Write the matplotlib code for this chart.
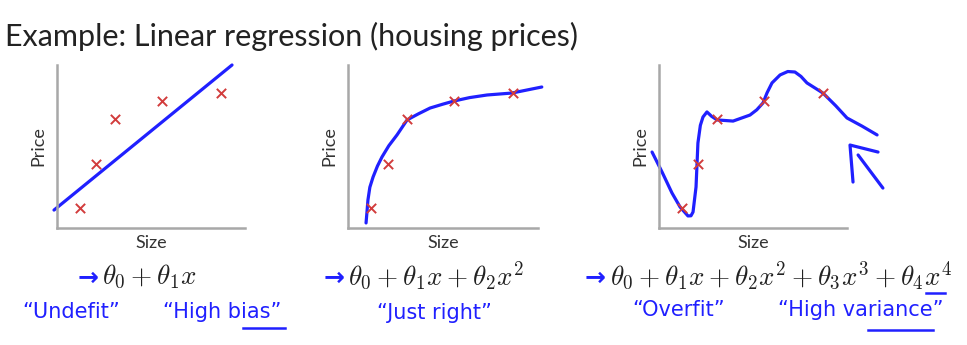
import matplotlib.pyplot as plt

plt.rcParams['mathtext.fontset'] = 'cm'

W, H = 967, 345

# training examples (same five houses in every panel)
size = [1.2, 2.1, 3.1, 5.6, 8.7]
price = [1.2, 3.9, 6.7, 7.8, 8.3]

# hand-drawn fits
fit1_x = [-0.16, 9.31]
fit1_y = [1.10, 10.0]

fit2_x = [0.95, 1.0, 1.05, 1.15, 1.32, 1.55, 1.79, 2.15, 2.58, 3.11, 3.7, 4.32, 5.0, 5.58, 6.4, 7.32, 8.63, 10.2]
fit2_y = [0.31, 1.0, 1.72, 2.5, 3.13, 3.8, 4.36, 5.05, 5.71, 6.63, 7.0, 7.36, 7.6, 7.79, 8.0, 8.16, 8.28, 8.65]

fit3_x = [-0.37, 0.16, 0.69, 1.12, 1.54, 1.7, 1.81, 1.97, 2.07, 2.2, 2.34, 2.55, 2.8, 3.09, 3.94,
          4.84, 5.2, 5.53, 5.75, 6.01, 6.44, 6.85, 7.23, 7.55, 7.87, 8.72, 9.4, 10.0, 10.8, 11.6]
fit3_y = [4.66, 3.44, 2.15, 1.29, 0.74, 0.75, 0.98, 2.52, 5.21, 6.3, 6.81, 7.12, 6.85, 6.63, 6.56,
          6.93, 7.25, 7.67, 8.3, 8.90, 9.39, 9.6, 9.57, 9.3, 8.90, 8.28, 7.5, 6.75, 6.25, 5.71]

# the little hand-drawn arrow pointing at the wiggle
arrow_a_x = [11.65, 10.16, 10.32]
arrow_a_y = [4.66, 5.09, 2.82]
arrow_b_x = [10.59, 11.91]
arrow_b_y = [4.48, 2.45]

formulas = [r'$\theta_0 + \theta_1 x$',
            r'$\theta_0 + \theta_1 x + \theta_2 x^2$',
            r'$\theta_0 + \theta_1 x + \theta_2 x^2 + \theta_3 x^3 + \theta_4 x^4$']

blue = '#2020ff'
red = '#d23c3c'
grey = '#a8a8a8'

fig = plt.figure(figsize=(W / 100, H / 100), dpi=100)


def panel(left, right, top, bottom):
    ax = fig.add_axes([left / W, 1 - bottom / H, (right - left) / W, (bottom - top) / H])
    ax.set_xlim(0, 10)
    ax.set_ylim(0, 10)
    for s in ['top', 'right']:
        ax.spines[s].set_visible(False)
    for s in ['left', 'bottom']:
        ax.spines[s].set_color(grey)
        ax.spines[s].set_linewidth(1.8)
    ax.set_xticks([])
    ax.set_yticks([])
    ax.set_xlabel('Size', fontsize=13, family='Lato', color='#333333', labelpad=5)
    ax.set_ylabel('Price', fontsize=13, family='Lato', color='#333333', labelpad=8)
    ax.patch.set_alpha(0)
    return ax


ax1 = panel(57, 245, 65, 228)
ax2 = panel(348, 538, 65, 228)
ax3 = panel(659, 847, 65, 228)

line_kw = dict(color=blue, lw=2.3, clip_on=False, solid_capstyle='round', solid_joinstyle='round')
ax1.plot(fit1_x, fit1_y, **line_kw)
ax2.plot(fit2_x, fit2_y, **line_kw)
ax3.plot(fit3_x, fit3_y, **line_kw)
ax3.plot(arrow_a_x, arrow_a_y, **line_kw)
ax3.plot(arrow_b_x, arrow_b_y, **line_kw)

for ax in (ax1, ax2, ax3):
    ax.scatter(size, price, marker='x', s=45, color=red, linewidths=1.4, zorder=3, clip_on=False)

fig.text(5 / W, 1 - 36 / H, 'Example: Linear regression (housing prices)',
         fontsize=22, family='Lato', color='#222222', va='center')

# formulas with the hand-drawn arrows in front
fx = [102, 348, 610]
ax_arrow = [99, 345, 606]
for x, a, f in zip(fx, ax_arrow, formulas):
    fig.text(x / W, 1 - 276 / H, f, fontsize=19.5, color='#222222', va='center')
    fig.text(a / W, 1 - 278 / H, '\u2192', fontsize=18, color=blue, va='center', ha='right',
             fontweight='bold')

notes = [('\u201cUndefit\u201d', 22, 312), ('\u201cHigh bias\u201d', 163, 312),
         ('\u201cJust right\u201d', 377, 313), ('\u201cOverfit\u201d', 632, 310),
         ('\u201cHigh variance\u201d', 778, 310)]
for t, x, y in notes:
    fig.text(x / W, 1 - y / H, t, fontsize=15, color=blue, va='center', family='DejaVu Sans')

# underlines
for x0, x1, y in [(243, 285, 328), (868, 933, 330), (926, 945, 293)]:
    fig.add_artist(plt.Line2D([x0 / W, x1 / W], [1 - y / H, 1 - y / H], color=blue, lw=1.8))

fig.savefig('out.png', dpi=100)
